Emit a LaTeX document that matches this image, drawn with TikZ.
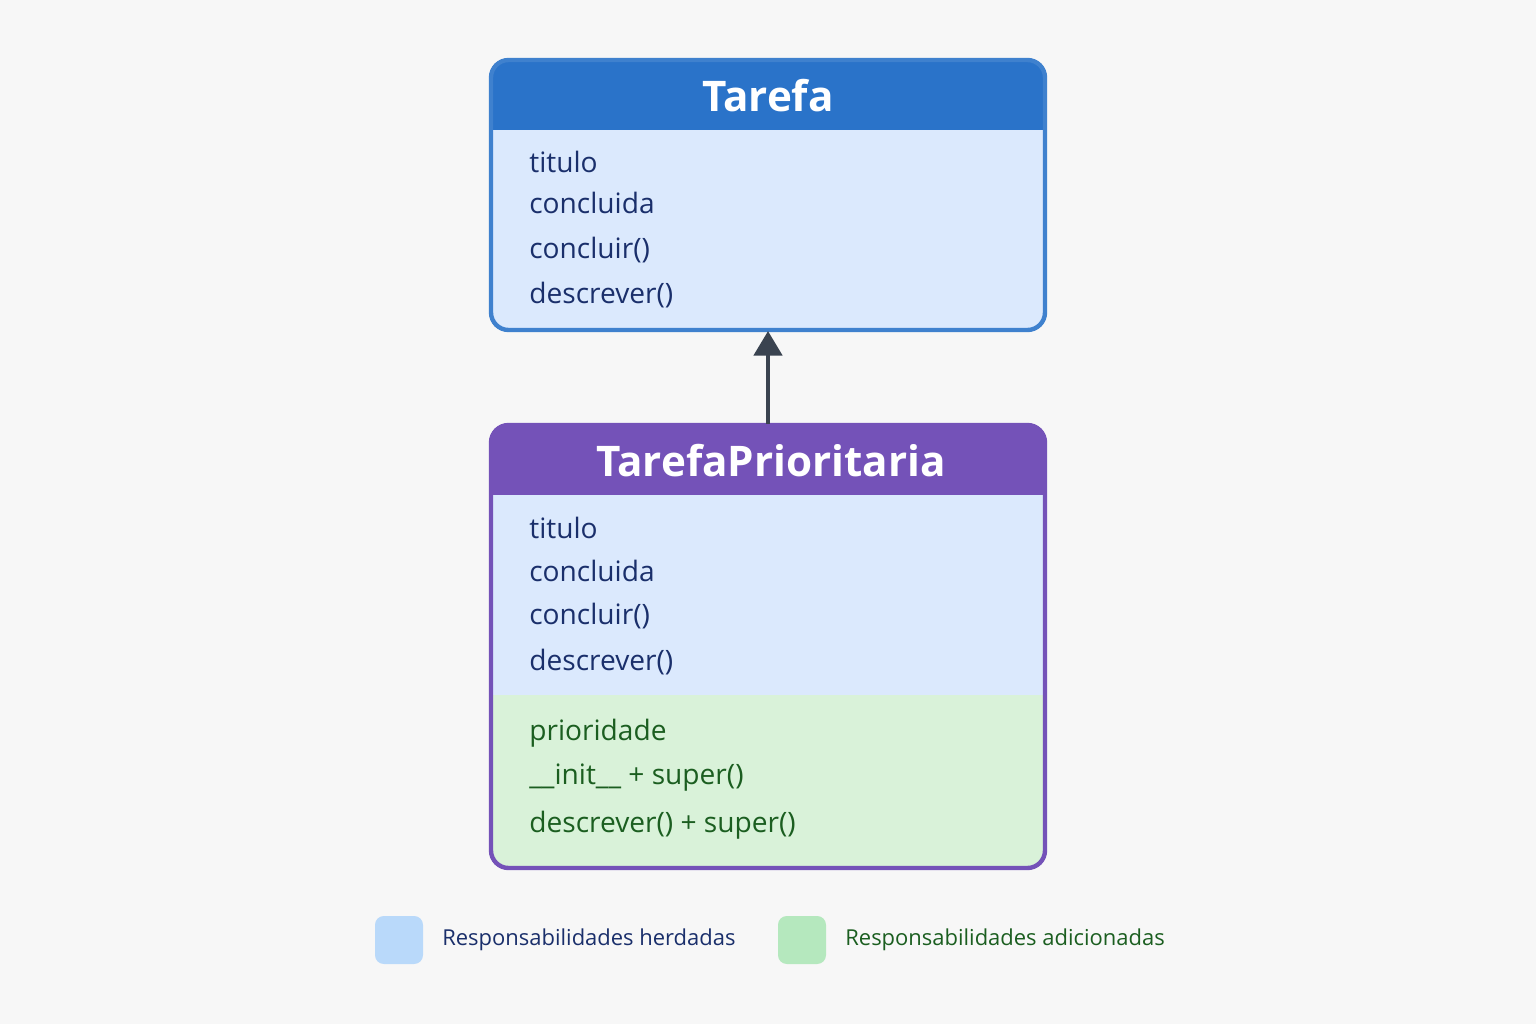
\documentclass[tikz,border=0pt]{standalone}
\usepackage{fontspec}
\setmainfont{Open Sans}
\usetikzlibrary{arrows.meta}
\definecolor{bg}{HTML}{F7F7F7}
\definecolor{hdblue}{HTML}{2A73C9}
\definecolor{hdpurple}{HTML}{7452B8}
\definecolor{fillblue}{HTML}{DBE9FD}
\definecolor{fillgreen}{HTML}{D9F2D9}
\definecolor{txtblue}{HTML}{1A2F6B}
\definecolor{txtgreen}{HTML}{1B5E20}
\definecolor{arrowgray}{HTML}{3A4350}
\definecolor{legblue}{HTML}{B9D9FA}
\definecolor{leggreen}{HTML}{B5E8BE}
\tikzset{
  member/.style={anchor=west, inner sep=0pt, font=\fontsize{16}{18}\selectfont},
  title/.style={text=white, inner sep=0pt, font=\fontsize{24}{26}\selectfont\bfseries},
  legend/.style={anchor=west, inner sep=0pt, font=\fontsize{12.5}{14}\selectfont}
}
\begin{document}
\begin{tikzpicture}[x=0.02cm,y=-0.02cm]
			\fill[bg] (0,0) rectangle (1536,1024);
			% Tarefa
			\fill[fillblue,rounded corners=10] (491,60) rectangle (1045,330);
			\fill[hdblue,rounded corners=10] (491,60) rectangle (1045,110);
			\fill[hdblue] (491,95) rectangle (1045,130);
			\draw[hdblue!90,line width=2.5pt,rounded corners=10] (491,60) rectangle (1045,330);
			\node[title] (tarefa) at (768,96) {Tarefa};
			\node[member,text=txtblue] (t1) at (529,162) {titulo};
			\node[member,text=txtblue] (t2) at (529,203) {concluida};
			\node[member,text=txtblue] (t3) at (529,250) {concluir()};
			\node[member,text=txtblue] (t4) at (529,295) {descrever()};
			\coordinate (tarefabot) at (768,331);
			% TarefaPrioritaria
			\fill[fillblue,rounded corners=10] (491,425) rectangle (1045,720);
			\fill[fillgreen,rounded corners=10] (491,695) rectangle (1045,868);
			\fill[fillgreen] (491,695) rectangle (1045,760);
			\fill[hdpurple,rounded corners=10] (491,425) rectangle (1045,470);
			\fill[hdpurple] (491,460) rectangle (1045,495);
			\draw[hdpurple,line width=2.5pt,rounded corners=10] (491,425) rectangle (1045,868);
			\node[title] (prioritaria) at (771,461) {TarefaPrioritaria};
			\node[member,text=txtblue] (p1) at (529,528) {titulo};
			\node[member,text=txtblue] (p2) at (529,571) {concluida};
			\node[member,text=txtblue] (p3) at (529,616) {concluir()};
			\node[member,text=txtblue] (p4) at (529,662) {descrever()};
			\node[member,text=txtgreen] (p5) at (529,733) {prioridade};
			\node[member,text=txtgreen] (p6) at (529,778) {\_\_init\_\_ + super()};
			\node[member,text=txtgreen] (p7) at (529,825) {descrever() + super()};
			\coordinate (prioritariatop) at (768,424);
			% heranca
			\draw[arrowgray,line width=2.5pt,-{Triangle[length=14pt,width=16pt]}] (prioritariatop) -- (tarefabot);
			% legenda
			\fill[legblue,rounded corners=5] (375,916) rectangle (423,964);
			\node[legend,text=txtblue] (lherd) at (442,940) {Responsabilidades herdadas};
			\fill[leggreen,rounded corners=5] (778,916) rectangle (826,964);
			\node[legend,text=txtgreen] (ladic) at (845,940) {Responsabilidades adicionadas};
			\end{tikzpicture}
\end{document}
